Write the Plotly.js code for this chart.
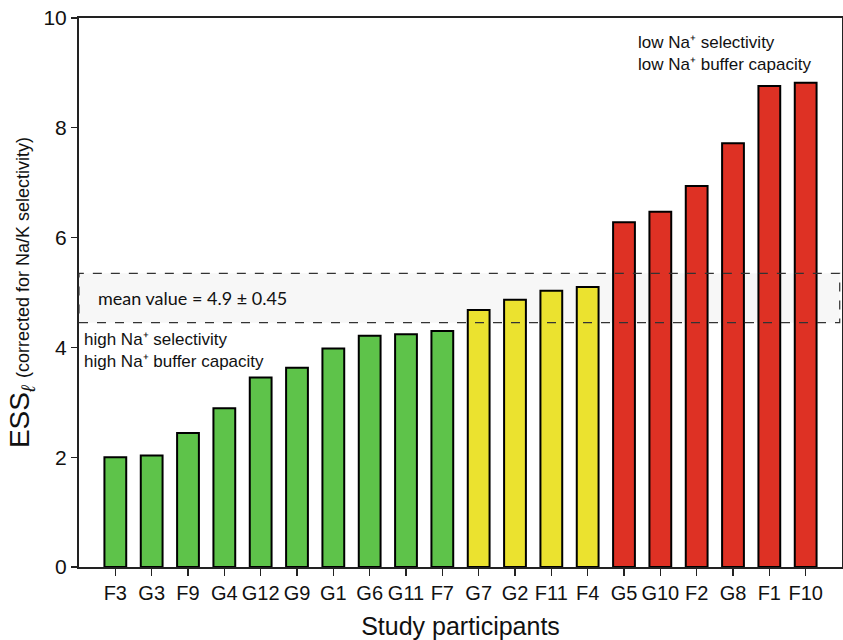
<!DOCTYPE html>
<html>
<head>
<meta charset="utf-8">
<script src="https://cdn.plot.ly/plotly-3.0.1.min.js"></script>
<style>
  html, body { margin: 0; padding: 0; background: #fff; }
  #chart { width: 843px; height: 640px; }
</style>
</head>
<body>
<div id="chart"></div>
<script>
// Participants, ordered by corrected ESS value
const participants = ["F3", "G3", "F9", "G4", "G12", "G9", "G1", "G6", "G11", "F7",
                      "G7", "G2", "F11", "F4",
                      "G5", "G10", "F2", "G8", "F1", "F10"];
const essValues = [2.00, 2.03, 2.44, 2.89, 3.45, 3.63, 3.98, 4.21, 4.24, 4.30,
                   4.68, 4.87, 5.03, 5.10,
                   6.28, 6.47, 6.94, 7.72, 8.76, 8.82];
// Group of each participant: high, mid or low Na+ selectivity
const groups = ["high", "high", "high", "high", "high", "high", "high", "high", "high", "high",
                "mid", "mid", "mid", "mid",
                "low", "low", "low", "low", "low", "low"];
const meanValue = 4.9;
const meanSpread = 0.45;
const yTicks = [0, 2, 4, 6, 8, 10];

const groupColors = { high: "#5ec34a", mid: "#ebe22f", low: "#de3124" };
const xIdx = participants.map((_, i) => i);

const bars = {
  type: "bar",
  x: xIdx,
  y: essValues,
  width: 0.6,
  marker: {
    color: groups.map(g => groupColors[g]),
    line: { color: "#000", width: 2 }
  },
  hoverinfo: "skip"
};

const layout = {
  width: 843,
  height: 640,
  margin: { l: 79, r: 1, t: 18, b: 73 },
  paper_bgcolor: "#fff",
  plot_bgcolor: "rgba(0,0,0,0)",
  showlegend: false,
  font: { family: "Liberation Sans, Arial, sans-serif", color: "#111" },
  xaxis: {
    range: [-1, 20],
    tickmode: "array",
    tickvals: xIdx,
    ticktext: participants,
    ticks: "outside",
    ticklen: 7,
    tickwidth: 1.3,
    tickcolor: "#222",
    tickfont: { size: 20, color: "#111" },
    showline: true,
    linecolor: "#222",
    linewidth: 2,
    mirror: true,
    showgrid: false,
    zeroline: false,
    title: { text: "Study participants", font: { size: 25, color: "#111" }, standoff: 14 }
  },
  yaxis: {
    range: [0, 10],
    tickmode: "array",
    tickvals: yTicks,
    ticktext: yTicks.map(String),
    ticks: "outside",
    ticklen: 6,
    tickwidth: 1.3,
    tickcolor: "#222",
    tickfont: { size: 21, color: "#111" },
    showline: true,
    linecolor: "#222",
    linewidth: 2,
    mirror: true,
    showgrid: false,
    zeroline: false,
    title: {
      text: "ESS<sub><i>ℓ</i></sub> <span style='font-size:18px'>(corrected for Na/K selectivity)</span>",
      font: { size: 28, color: "#111" },
      standoff: 6
    }
  },
  shapes: [
    // shaded band for mean ± spread
    {
      type: "rect", xref: "paper", yref: "y",
      x0: 0, x1: 0.997, y0: meanValue - meanSpread, y1: meanValue + meanSpread,
      fillcolor: "#f7f7f7", line: { width: 0 }, layer: "below"
    },
    // dashed outline of the band
    {
      type: "rect", xref: "paper", yref: "y",
      x0: 0, x1: 0.997, y0: meanValue - meanSpread, y1: meanValue + meanSpread,
      fillcolor: "rgba(0,0,0,0)",
      line: { color: "#333", width: 1.2, dash: "dash" }, layer: "above"
    }
  ],
  annotations: [
    {
      xref: "paper", yref: "y", x: 0.022, y: meanValue,
      text: "mean value = 4.9 ± 0.45",
      showarrow: false, xanchor: "left", yanchor: "middle",
      font: { family: "Lato, Open Sans, sans-serif", size: 18, color: "#111" }
    },
    {
      xref: "paper", yref: "paper", x: 0.004, y: 0.395,
      text: "high Na⁺ selectivity<br>high Na⁺ buffer capacity",
      showarrow: false, xanchor: "left", yanchor: "middle", align: "left",
      font: { size: 17, color: "#111" }
    },
    {
      xref: "paper", yref: "paper", x: 0.73, y: 0.936,
      text: "low Na⁺ selectivity<br>low Na⁺ buffer capacity",
      showarrow: false, xanchor: "left", yanchor: "middle", align: "left",
      font: { size: 17, color: "#111" }
    }
  ]
};

Plotly.newPlot("chart", [bars], layout, { displayModeBar: false, staticPlot: true });
</script>
</body>
</html>
